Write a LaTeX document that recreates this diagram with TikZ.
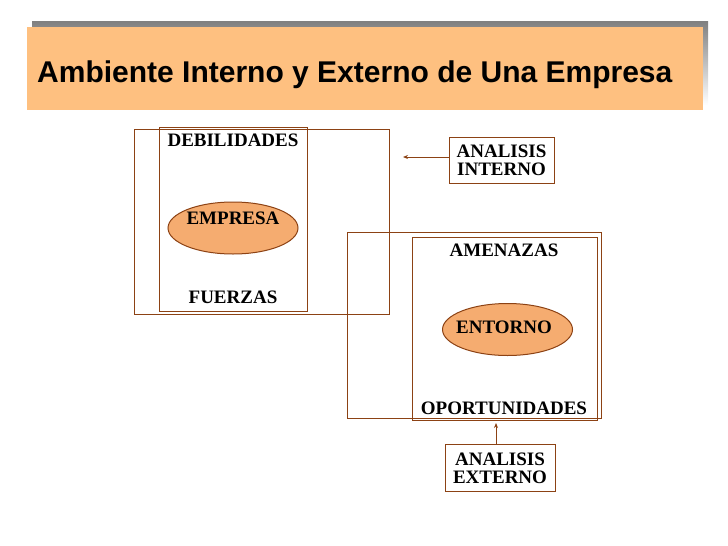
\documentclass[tikz,border=0pt]{standalone}
\usepackage{fontspec}
\setmainfont{Liberation Serif}
\newfontfamily\titlefont{Liberation Sans}
\usetikzlibrary{shapes.geometric,arrows.meta}
\definecolor{brn}{RGB}{140,66,20}
\definecolor{ellfill}{RGB}{245,172,112}
\definecolor{band}{RGB}{254,192,128}
\definecolor{shade}{RGB}{128,128,128}
\tikzset{
  lbl/.style={inner sep=0pt, font=\fontsize{19}{18}\selectfont\bfseries},
  frame/.style={draw=brn, line width=1pt},
  oval/.style={ellipse, draw=brn, line width=1pt, fill=ellfill, minimum width=130pt, minimum height=52pt, inner sep=0pt},
  abox/.style={draw=brn, line width=1pt, align=center, inner sep=0pt, font=\fontsize{19}{18}\selectfont\bfseries},
  arr/.style={draw=brn, line width=1pt, -{Stealth[length=5pt,width=4pt]}}
}
\begin{document}
\begin{tikzpicture}[x=1pt,y=-1pt]
\useasboundingbox (0,0) rectangle (728,546);
% title band
\fill[shade] (32,21) rectangle (708,105);
\fill[band] (27,27) rectangle (703,110);
\node[anchor=base west, inner sep=0pt, font=\titlefont\fontsize{30}{30}\selectfont\bfseries] (title) at (37,82) {Ambiente Interno y Externo de Una Empresa};
% left frames
\draw[frame] (134,129) rectangle (389,314);
\draw[frame] (159,127) rectangle (307,311);
\node[oval] (emp) at (233,228) {};
\node[lbl] (empt) at (233,218) {EMPRESA};
\node[lbl] (deb) at (233,140) {DEBILIDADES};
\node[lbl] (fue) at (233,297) {FUERZAS};
% right frames
\draw[frame] (347,232) rectangle (601,418);
\draw[frame] (412,237) rectangle (597,420);
\node[oval] (ent) at (507.5,329.5) {};
\node[lbl] (entt) at (504,327) {ENTORNO};
\node[lbl] (ame) at (504,250) {AMENAZAS};
\node[lbl] (opo) at (504,408) {OPORTUNIDADES};
% analysis boxes
\node[abox, minimum width=105pt, minimum height=46pt] (ai) at (501.5,160) {ANALISIS\\INTERNO};
\node[abox, minimum width=110pt, minimum height=47pt] (ae) at (500,468) {ANALISIS\\EXTERNO};
\coordinate (aiend) at (403,157);
\coordinate (aeend) at (496,423);
\draw[arr] (ai.west |- aiend) -- (aiend);
\draw[arr] (aeend |- ae.north) -- (aeend);
\end{tikzpicture}
\end{document}
